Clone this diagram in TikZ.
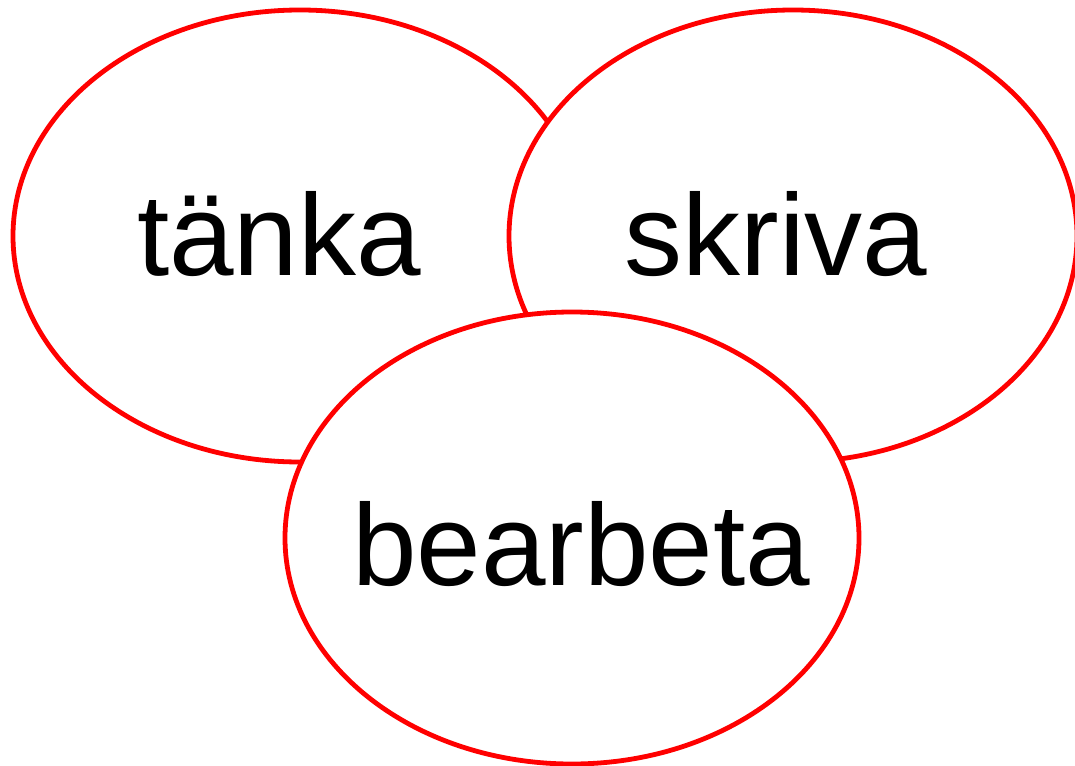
\documentclass[tikz,border=0pt]{standalone}
\usepackage{fontspec}
\setmainfont{Liberation Sans}
\usepackage{xcolor}
\usepackage{tikz}
\usetikzlibrary{shapes.geometric,calc}
\definecolor{RingRed}{HTML}{FF0000}

\tikzset{
  ring/.style={draw=RingRed, fill=white, ellipse, line width=4.8pt,
               inner sep=0pt, minimum width=574pt, minimum height=452pt},
  word/.style={anchor=base, inner sep=0pt, font=\fontsize{116}{120}\selectfont}
}

\begin{document}
\begin{tikzpicture}[x=1pt,y=-1pt]
  \useasboundingbox (0,0) rectangle (1075,765);
  % the three rings, later ones cover earlier ones
  \node[ring] (tanka) at (300,236) {};
  \node[word] (tankatxt) at ($(tanka.center)+(-21,39)$) {tänka};
  \node[ring, minimum width=568pt] (skriva) at (793,236) {};
  \node[word] (skrivatxt) at ($(skriva.center)+(-17,39)$) {skriva};
  \node[ring] (bearbeta) at (572,538) {};
  \node[word] (bearbetatxt) at ($(bearbeta.center)+(9,47)$) {bearbeta};
\end{tikzpicture}
\end{document}
